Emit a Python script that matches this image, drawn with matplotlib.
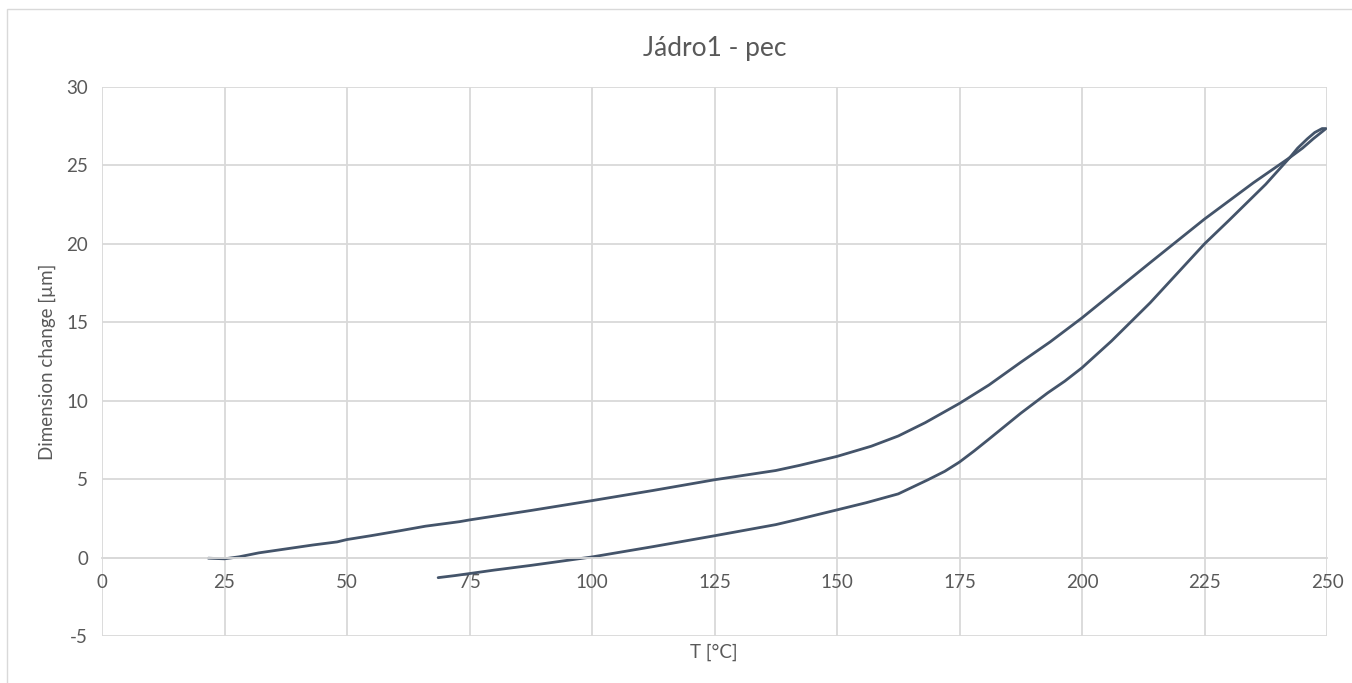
import matplotlib.pyplot as plt
from matplotlib.patches import Rectangle

plt.rcParams['font.family'] = ['Lato', 'DejaVu Sans']
plt.rcParams['axes.unicode_minus'] = False

# heating branch
t_heat = [21.7, 25, 28, 32, 37.5, 43, 48, 50, 55, 60.8, 66, 73, 75, 87.5, 100,
          112.5, 125, 137.5, 142.4, 150, 157, 162.5, 168, 175, 181, 187.5,
          193.5, 200, 213.9, 225, 235, 242.4, 245, 247.2, 249, 249.6]
d_heat = [-0.04, -0.08, 0.05, 0.3, 0.55, 0.8, 1.0, 1.15, 1.4, 1.71, 2.0, 2.29,
          2.4, 3.0, 3.63, 4.28, 4.96, 5.55, 5.88, 6.45, 7.1, 7.75, 8.6, 9.83,
          11.0, 12.45, 13.75, 15.28, 18.8, 21.58, 23.9, 25.5, 26.1, 26.7,
          27.15, 27.3]

# cooling branch
t_cool = [249.8, 249, 247.5, 246, 244, 242.4, 237.5, 230, 225, 213.9, 206,
          200, 196.5, 193, 187.5, 181, 178, 175, 172, 168.5, 162.5, 156, 150,
          142.4, 137.5, 125, 112.5, 100, 87.5, 80, 75, 72, 68.6]
d_cool = [27.35, 27.35, 27.1, 26.7, 26.1, 25.5, 23.8, 21.5, 20.0, 16.24, 13.8,
          12.1, 11.25, 10.5, 9.2, 7.55, 6.8, 6.09, 5.5, 4.95, 4.06, 3.5, 3.04,
          2.46, 2.1, 1.39, 0.7, 0.04, -0.5, -0.8, -1.02, -1.15, -1.28]

x_ticks = [0, 25, 50, 75, 100, 125, 150, 175, 200, 225, 250]
y_ticks = [-5, 0, 5, 10, 15, 20, 25, 30]

line_col = '#44546A'
grid_col = '#D9D9D9'
text_col = '#595959'

fig = plt.figure(figsize=(13.52, 6.83), dpi=100)
fig.patches.append(Rectangle((7 / 1352, -0.1), 1.2, 1 - 9 / 683 + 0.1,
                             transform=fig.transFigure, fill=False,
                             edgecolor=grid_col, linewidth=1))
ax = fig.add_axes([102 / 1352, 1 - 636 / 683, 1225 / 1352, 549 / 683])

ax.plot(t_heat, d_heat, color=line_col, linewidth=2.0, solid_capstyle='round')
ax.plot(t_cool, d_cool, color=line_col, linewidth=2.0, solid_capstyle='round')

ax.set_xlim(0, 250)
ax.set_ylim(-5, 30)
ax.set_xticks(x_ticks)
ax.set_yticks(y_ticks)
ax.grid(True, color=grid_col, linewidth=1.3)
ax.set_axisbelow(True)
for s in ['top', 'right', 'left']:
    ax.spines[s].set_visible(False)
ax.spines['bottom'].set_position(('data', 0))
ax.spines['bottom'].set_color(grid_col)
ax.spines['bottom'].set_linewidth(1.3)
ax.tick_params(axis='both', length=0, labelsize=13.5, labelcolor=text_col)
ax.tick_params(axis='x', pad=12)
ax.tick_params(axis='y', pad=10)

ax.set_title('Jádro1 - pec', fontsize=19, color=text_col, pad=22)
fig.text(714 / 1352, 1 - 652 / 683, 'T [°C]', ha='center', va='center',
         fontsize=13.5, color=text_col)
fig.text(47 / 1352, 1 - 362 / 683, 'Dimension change [µm]', ha='center',
         va='center', rotation=90, fontsize=13.5, color=text_col)

fig.savefig('out.png', dpi=100, facecolor='white')
